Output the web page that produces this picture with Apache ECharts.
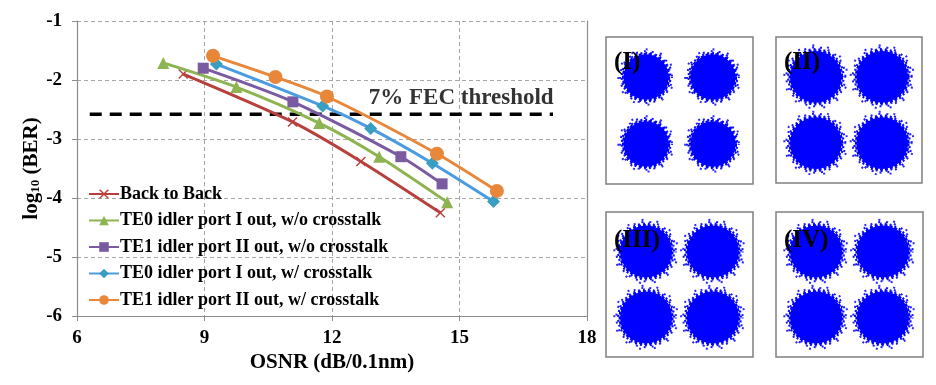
<!DOCTYPE html>
<html><head><meta charset="utf-8">
<script src="https://cdn.jsdelivr.net/npm/echarts@6/dist/echarts.min.js"></script>
<style>html,body{margin:0;padding:0;background:#fff}#c{width:936px;height:385px}</style>
</head><body><div id="c"></div>
<script>
// ---- data ----
const seriesNames = [
  'Back to Back',
  'TE0 idler port I out, w/o crosstalk',
  'TE1 idler port II out, w/o crosstalk',
  'TE0 idler port I out, w/ crosstalk',
  'TE1 idler port II out, w/ crosstalk'
];
const b2bX = [8.5, 11.07, 12.68, 14.55];
const b2bY = [-1.90, -2.71, -3.38, -4.25];
const te0NoX = [8.03, 9.75, 11.7, 13.11, 14.71];
const te0NoY = [-1.71, -2.12, -2.73, -3.30, -4.07];
const te1NoX = [8.97, 11.08, 13.62, 14.59];
const te1NoY = [-1.80, -2.37, -3.30, -3.76];
const te0XtX = [9.28, 11.78, 12.91, 14.36, 15.80];
const te0XtY = [-1.73, -2.44, -2.82, -3.41, -4.06];
const te1XtX = [9.20, 10.67, 11.88, 14.47, 15.88];
const te1XtY = [-1.59, -1.95, -2.28, -3.25, -3.88];
const fecX = [6.3, 17.2];
const fecY = -2.58;
const fecLabel = '7% FEC threshold';
const fecLabelX = 15.04;
const xTicks = [6, 9, 12, 15, 18];
const yTicks = [-6, -5, -4, -3, -2, -1];
// constellations
const panelLabels = ['(I)', '(II)', '(III)', '(IV)'];
const symI = [-1, 1, -1, 1];
const symQ = [1, 1, -1, -1];
const clusterRadius = [0.68, 0.78, 0.78, 0.78];

const zip = (xs, ys) => xs.map((x, i) => [x, ys[i]]);
const serif = '"Liberation Serif", "Times New Roman", serif';
const colors = ['#B8403C', '#8DB450', '#7A5AA0', '#3A9EC0', '#E8873A'];
const lineColors = ['#B8403C', '#8DB450', '#7A5AA0', '#4A9BE0', '#E8873A'];
const xPath = 'path://M0,1 L1,0 L5,4 L9,0 L10,1 L6,5 L10,9 L9,10 L5,6 L1,10 L0,9 L4,5Z';
const symbols = [xPath, 'triangle', 'rect', 'diamond', 'circle'];
const symSizes = [10, 12, 11, 13, 14];
const dataSets = [zip(b2bX, b2bY), zip(te0NoX, te0NoY), zip(te1NoX, te1NoY), zip(te0XtX, te0XtY), zip(te1XtX, te1XtY)];

const chart = echarts.init(document.getElementById('c'), null, {renderer: 'canvas'});

const grids = [
  {left: 77, top: 21, width: 510, height: 295},
  {left: 606, top: 37, width: 147, height: 147},
  {left: 776, top: 37, width: 146, height: 146},
  {left: 606, top: 212, width: 147, height: 145},
  {left: 776, top: 212, width: 147, height: 145}
];
grids.forEach((g, i) => {
  g.containLabel = false;
  if (i > 0) { g.show = true; g.borderColor = '#808080'; g.borderWidth = 1.5; g.backgroundColor = '#fff'; }
});

const xAxes = [{
  type: 'value', gridIndex: 0, min: xTicks[0], max: xTicks[xTicks.length - 1], interval: 3,
  axisLine: {lineStyle: {color: '#8c8c8c', width: 1.2}},
  axisTick: {show: true, length: 5, lineStyle: {color: '#8c8c8c'}},
  axisLabel: {color: '#000', fontFamily: serif, fontWeight: 'bold', fontSize: 19, margin: 13},
  splitLine: {show: true, lineStyle: {color: '#a6a6a6', type: [4, 3], width: 1}},
  name: 'OSNR (dB/0.1nm)', nameLocation: 'middle', nameGap: 36, nameMoveOverlap: false,
  nameTextStyle: {color: '#000', fontFamily: serif, fontWeight: 'bold', fontSize: 21}
}];
const yAxes = [{
  type: 'value', gridIndex: 0, min: yTicks[0], max: yTicks[yTicks.length - 1], interval: 1,
  axisLine: {show: true, lineStyle: {color: '#8c8c8c', width: 1.2}},
  axisTick: {show: true, length: 5, lineStyle: {color: '#8c8c8c'}},
  axisLabel: {color: '#000', fontFamily: serif, fontWeight: 'bold', fontSize: 19, margin: 15},
  splitLine: {show: true, lineStyle: {color: '#a6a6a6', type: [4, 3], width: 1}},
  name: '{a|log}{b|10}{a| (BER)}', nameLocation: 'middle', nameGap: 35, nameRotate: 90, nameMoveOverlap: false,
  nameTextStyle: {color: '#000', fontFamily: serif, fontWeight: 'bold', fontSize: 21,
    rich: {a: {fontFamily: serif, fontWeight: 'bold', fontSize: 21, color: '#000'},
           b: {fontFamily: serif, fontWeight: 'bold', fontSize: 13, color: '#000', padding: [8, 0, 0, 0]}}}
}, {
  type: 'value', gridIndex: 0, position: 'right', min: -6, max: -1, interval: 1,
  axisLine: {show: true, lineStyle: {color: '#8c8c8c', width: 1.2}},
  axisTick: {show: false}, axisLabel: {show: false}, splitLine: {show: false}
}];
const panelX = [], panelY = [];
for (let p = 1; p <= 4; p++) {
  panelX.push(xAxes.length);
  xAxes.push({type: 'value', gridIndex: p, min: -2.2, max: 2.2, show: false});
  panelY.push(yAxes.length);
  yAxes.push({type: 'value', gridIndex: p, min: -2.2, max: 2.2, show: false});
}

const series = dataSets.map((d, i) => ({
  name: seriesNames[i], type: 'line', xAxisIndex: 0, yAxisIndex: 0, data: d,
  smooth: 0.25, symbol: symbols[i], symbolSize: symSizes[i],
  lineStyle: {color: lineColors[i], width: 3},
  itemStyle: {color: colors[i]}, z: 3 + i
}));
series.push({
  name: 'fec', type: 'line', xAxisIndex: 0, yAxisIndex: 0,
  data: fecX.map(x => [x, fecY]), symbol: 'none', silent: true,
  lineStyle: {color: '#000', width: 3.5, type: [12, 8]}, z: 2
});
series.push({
  name: 'feclabel', type: 'scatter', xAxisIndex: 0, yAxisIndex: 0,
  data: [[fecLabelX, fecY]], symbolSize: 0, silent: true,
  label: {show: true, position: 'top', distance: 5, formatter: fecLabel,
    color: '#000', fontFamily: serif, fontWeight: 'bold', fontSize: 23}, z: 10
});

const ring = (c, r, w, dash, off, col) => ({type: 'circle', shape: {cx: c[0], cy: c[1], r: r},
  style: {fill: 'none', stroke: col, lineWidth: w, lineDash: dash, lineDashOffset: off}});

for (let p = 0; p < 4; p++) {
  const R = clusterRadius[p];
  series.push({
    type: 'custom', coordinateSystem: 'cartesian2d', xAxisIndex: panelX[p], yAxisIndex: panelY[p], silent: true,
    data: symI.map((v, i) => [v, symQ[i]]),
    renderItem: (params, api) => {
      const c = api.coord([api.value(0), api.value(1)]);
      const r = api.size([R, R])[0];
      return {type: 'group', children: [
        ring(c, r * 1.22, 2, [2, 13], 5, '#2a2aff'),
        ring(c, r * 1.14, 2, [2, 6], 1, '#1a1aff'),
        ring(c, r * 1.07, 2.2, [2, 3], 2, '#0d0dff'),
        ring(c, r * 1.01, 2.4, [3, 2], 0, '#0000ff'),
        {type: 'circle', shape: {cx: c[0], cy: c[1], r: r}, style: {fill: '#0000ff'}}
      ]};
    }
  });
}

const labelPos = [[614, 50], [784, 50], [614, 228], [784, 228]];
const graphic = panelLabels.map((t, i) => ({
  type: 'text', left: labelPos[i][0], top: labelPos[i][1], z: 100,
  style: {text: t, fill: '#000', font: 'bold 25px ' + serif}
}));

chart.setOption({
  animation: false,
  backgroundColor: '#fff',
  grid: grids, xAxis: xAxes, yAxis: yAxes, series: series, graphic: graphic,
  legend: {
    data: seriesNames, orient: 'vertical', left: 88, top: 185,
    itemWidth: 30, itemHeight: 12, itemGap: 8.5, padding: 0,
    textStyle: {color: '#000', fontFamily: serif, fontWeight: 'bold', fontSize: 18, lineHeight: 18, padding: [0, 0, 0, -4]},
    selectedMode: false
  }
});
</script></body></html>
